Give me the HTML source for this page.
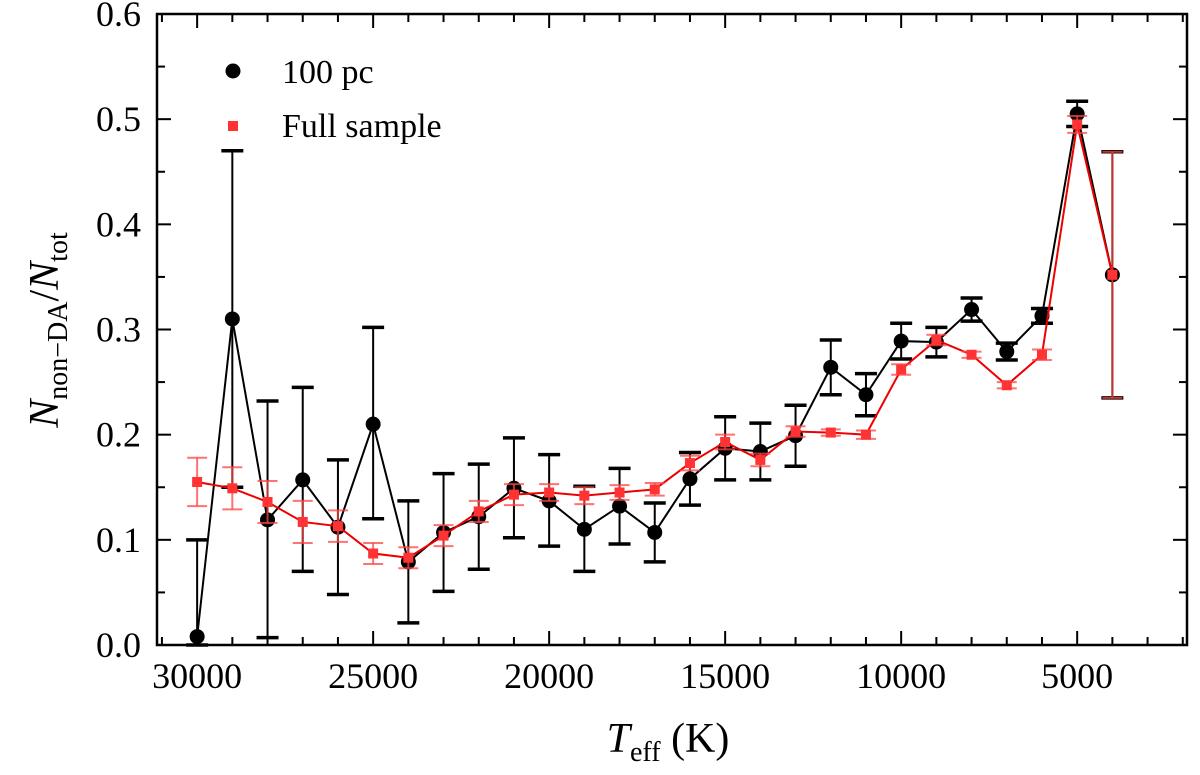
<!DOCTYPE html>
<html><head><meta charset="utf-8"><style>
html,body{margin:0;padding:0;background:#fff;}
svg text{font-family:"Liberation Serif",serif;}
</style></head><body>
<svg id="chart" width="1200" height="770" xmlns="http://www.w3.org/2000/svg">
</svg>
<script>
const temps=[30000,29000,28000,27000,26000,25000,24000,23000,22000,21000,20000,19000,18000,17000,16000,15000,14000,13000,12000,11000,10000,9000,8000,7000,6000,5000,4000];
const pcVals=[0.008,0.31,0.119,0.157,0.112,0.21,0.079,0.107,0.122,0.149,0.137,0.110,0.132,0.107,0.158,0.187,0.184,0.199,0.264,0.238,0.289,0.288,0.319,0.279,0.313,0.505,0.352];
const pcHi=[0.10,0.47,0.232,0.245,0.176,0.302,0.137,0.163,0.172,0.197,0.181,0.151,0.168,0.135,0.183,0.217,0.211,0.228,0.290,0.258,0.306,0.302,0.330,0.287,0.320,0.517,0.469];
const pcLo=[0.0,0.15,0.007,0.070,0.048,0.120,0.021,0.051,0.072,0.102,0.094,0.070,0.096,0.079,0.133,0.157,0.157,0.170,0.238,0.218,0.272,0.274,0.308,0.271,0.306,0.493,0.235];
const fullVals=[0.155,0.149,0.136,0.117,0.113,0.087,0.083,0.104,0.127,0.143,0.145,0.142,0.145,0.148,0.173,0.193,0.176,0.203,0.202,0.200,0.262,0.290,0.276,0.247,0.276,0.495,0.352];
const fullErr=[0.023,0.02,0.02,0.02,0.015,0.01,0.01,0.01,0.01,0.01,0.008,0.008,0.007,0.006,0.007,0.007,0.006,0.005,0.003,0.004,0.005,0.005,0.003,0.003,0.005,0.008,0.117];
const xTicks=[30000,25000,20000,15000,10000,5000];
const yTicks=[0,0.1,0.2,0.3,0.4,0.5,0.6];
const L=157,R=1187,T=14,B=645,xmin=31140,xmax=1880;
const X=v=>L+(xmin-v)/(xmin-xmax)*(R-L);
const Y=v=>B-v/0.6*(B-T);
const svg=document.getElementById('chart');
const NS='http://www.w3.org/2000/svg';
function mk(tag,attrs,parent){const e=document.createElementNS(NS,tag);for(const k in attrs)e.setAttribute(k,attrs[k]);(parent||svg).appendChild(e);return e;}
for(let t=2000;t<=31000;t+=1000){const x=X(t);const major=t%5000===0;const len=major?14:8;
 const a=mk('line',{x1:x,x2:x,y1:B,y2:B-len,stroke:'#000','stroke-width':2});
 mk('line',{x1:x,x2:x,y1:T,y2:T+len,stroke:'#000','stroke-width':2});}
for(let i=0;i<=12;i++){const v=i*0.05;const y=Y(v);const major=i%2===0;const len=major?14:8;
 const a=mk('line',{x1:L,x2:L+len,y1:y,y2:y,stroke:'#000','stroke-width':2});
 mk('line',{x1:R,x2:R-len,y1:y,y2:y,stroke:'#000','stroke-width':2});}
xTicks.forEach(t=>{const e=mk('text',{x:X(t),y:688,'text-anchor':'middle','font-size':36});e.textContent=t;});
yTicks.forEach(v=>{const e=mk('text',{x:L-16,y:Y(v)+12,'text-anchor':'end','font-size':36});e.textContent=v.toFixed(1);});
const g1=mk('g',{});
mk('polyline',{points:temps.map((t,i)=>X(t)+','+Y(pcVals[i])).join(' '),fill:'none',stroke:'#000','stroke-width':2},g1);
temps.forEach((t,i)=>{const x=X(t);
 mk('line',{x1:x,x2:x,y1:Y(pcHi[i]),y2:Y(pcLo[i]),stroke:'#000','stroke-width':2},g1);
 mk('line',{x1:x-11,x2:x+11,y1:Y(pcHi[i]),y2:Y(pcHi[i]),stroke:'#000','stroke-width':3.5},g1);
 mk('line',{x1:x-11,x2:x+11,y1:Y(pcLo[i]),y2:Y(pcLo[i]),stroke:'#000','stroke-width':3.5},g1);
 const c=mk('circle',{cx:x,cy:Y(pcVals[i]),r:7.5,fill:'#000'},g1);});
const g2=mk('g',{});
mk('polyline',{points:temps.map((t,i)=>X(t)+','+Y(fullVals[i])).join(' '),fill:'none',stroke:'#e00','stroke-width':2},g2);
temps.forEach((t,i)=>{const x=X(t);const hi=Y(fullVals[i]+fullErr[i]),lo=Y(fullVals[i]-fullErr[i]);
 mk('line',{x1:x,x2:x,y1:hi,y2:lo,stroke:'#f44','stroke-width':2,opacity:0.75},g2);
 mk('line',{x1:x-10,x2:x+10,y1:hi,y2:hi,stroke:'#f44','stroke-width':2,opacity:0.75},g2);
 mk('line',{x1:x-10,x2:x+10,y1:lo,y2:lo,stroke:'#f44','stroke-width':2,opacity:0.75},g2);
 const s=mk('rect',{x:x-5,y:Y(fullVals[i])-5,width:10,height:10,fill:'#f33'},g2);});
mk('rect',{x:L,y:T,width:R-L,height:B-T,fill:'none',stroke:'#000','stroke-width':2.5});
const lg=mk('g',{});
mk('circle',{cx:233,cy:71,r:7.5,fill:'#000'},lg);
let t1=mk('text',{x:282,y:83,'font-size':34},lg);t1.textContent='100 pc';
mk('rect',{x:228,y:121,width:10,height:10,fill:'#f33'},lg);
let t2=mk('text',{x:282,y:137,'font-size':34},lg);t2.textContent='Full sample';
</script>
<svg width="1200" height="770" style="position:absolute;left:0;top:0" xmlns="http://www.w3.org/2000/svg">
<text x="668" y="752" text-anchor="middle" font-size="42" font-family="Liberation Serif, serif"><tspan font-style="italic">T</tspan><tspan font-size="28" dy="9">eff</tspan><tspan dy="-9"> (K)</tspan></text>
<text transform="translate(58,330) rotate(-90)" text-anchor="middle" font-size="42" font-family="Liberation Serif, serif"><tspan font-style="italic">N</tspan><tspan font-size="28" dy="9">non−DA</tspan><tspan dy="-9">/</tspan><tspan font-style="italic">N</tspan><tspan font-size="28" dy="9">tot</tspan></text>
</svg>
</body></html>
